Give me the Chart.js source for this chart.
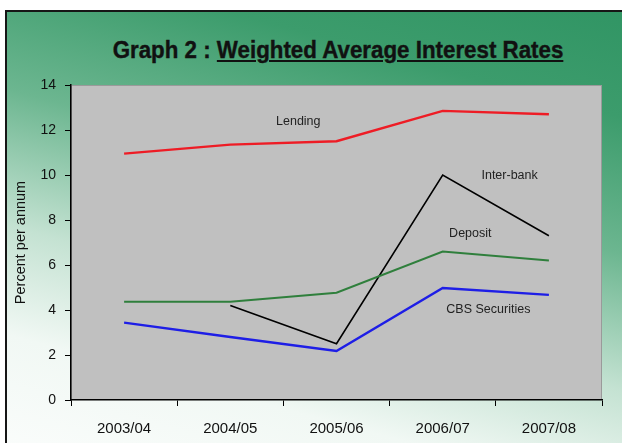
<!DOCTYPE html>
<html lang="en">
<head>
<meta charset="UTF-8"/>
<title>Weighted Average Interest Rates</title>
<script src="https://cdn.jsdelivr.net/npm/chart.js@4/dist/chart.umd.min.js"></script>
<style>
  html,body{margin:0;padding:0;width:622px;height:443px;overflow:hidden;background:#fff}
  .frame{position:absolute;left:5px;top:10px;width:680px;height:500px;
    border-left:2px solid #161616;border-top:2px solid #161616;
    background:linear-gradient(195deg,#2f9463 0%,#3c9c6c 18%,#6cb690 38%,#c4e2d2 58%,#f1f8f4 74%,#fff 100%)}
  .title{position:absolute;left:0;top:38px;width:676px;text-align:center;
    font:bold 24px "Liberation Sans",Arial,sans-serif;line-height:24px;color:#111;
    -webkit-text-stroke:.4px #111;
    transform:scaleX(.93);transform-origin:338px 0}
  .title u{text-decoration-thickness:2px;text-underline-offset:2px}
  canvas{position:absolute;left:0;top:0}
</style>
</head>
<body>
<div class="frame"></div>
<div class="title">Graph 2 : <u>Weighted Average Interest Rates</u></div>
<canvas id="rates" width="622" height="443"></canvas>

<script>
// ── Data (percent per annum) ────────────────────────────────────────────────
const years      = ['2003/04', '2004/05', '2005/06', '2006/07', '2007/08'];
const lending    = [10.95, 11.35, 11.5, 12.85, 12.7];
const interbank  = [null, 4.2, 2.5, 10.0, 7.3];
const deposit    = [4.37, 4.37, 4.77, 6.6, 6.2];
const cbsSec     = [3.44, 2.8, 2.18, 4.98, 4.67];
const yTicks     = [0, 2, 4, 6, 8, 10, 12, 14];

// series names written next to the lines, anchored in axis units
const seriesNames = [
  { text: 'Lending',        at: [1.64, 12.36] },
  { text: 'Inter-bank',     at: [3.63, 9.96] },
  { text: 'Deposit',        at: [3.26, 7.38] },
  { text: 'CBS Securities', at: [3.43, 4.04] },
];

const FONT = '"Liberation Sans", Arial, sans-serif';

// grey plot background + inline series names
const plotDecor = {
  id: 'plotDecor',
  beforeDraw(chart) {
    const { ctx, chartArea: a } = chart;
    ctx.save();
    ctx.fillStyle = '#c0c0c0';
    ctx.fillRect(a.left, a.top, a.right - a.left, a.bottom - a.top);
    ctx.strokeStyle = '#9a9a9a';
    ctx.lineWidth = 1;
    ctx.strokeRect(a.left + 0.5, a.top + 0.5, a.right - a.left - 1, a.bottom - a.top - 1);
    ctx.restore();
  },
  afterDatasetsDraw(chart) {
    const { ctx, scales } = chart;
    ctx.save();
    ctx.font = '12.5px ' + FONT;
    ctx.fillStyle = '#222';
    ctx.textAlign = 'center';
    ctx.textBaseline = 'middle';
    seriesNames.forEach(s => {
      ctx.fillText(s.text, scales.x.getPixelForValue(s.at[0]), scales.y.getPixelForValue(s.at[1]));
    });
    ctx.restore();
  }
};

const line = (label, data, color, width) => ({
  label, data, borderColor: color, borderWidth: width,
  pointRadius: 0, tension: 0, fill: false
});

new Chart(document.getElementById('rates'), {
  type: 'line',
  data: {
    labels: years,
    datasets: [
      line('Lending', lending, '#ee1c25', 2.4),
      line('Deposit', deposit, '#2f7f3c', 2),
      line('CBS Securities', cbsSec, '#1e1ee6', 2.4),
      line('Inter-bank', interbank, '#000', 1.6),
    ]
  },
  options: {
    responsive: false,
    animation: false,
    layout: { padding: { top: 85, right: 20, left: 0, bottom: 0 } },
    plugins: { legend: { display: false }, tooltip: { enabled: false } },
    scales: {
      x: {
        offset: true,
        grid: { offset: true, drawOnChartArea: false, color: '#000', tickLength: 6 },
        border: { color: '#000', width: 1.5 },
        ticks: { color: '#111', font: { family: FONT, size: 15 }, padding: 14, maxRotation: 0 },
        afterFit(s) { s.height = 43; }
      },
      y: {
        min: 0, max: 14,
        afterBuildTicks(s) { s.ticks = yTicks.map(v => ({ value: v })); },
        grid: { drawOnChartArea: false, color: '#000', tickLength: 6 },
        border: { color: '#000', width: 1.5 },
        ticks: { color: '#111', font: { family: FONT, size: 14 }, padding: 9 },
        title: {
          display: true, text: 'Percent per annum', color: '#111',
          font: { family: FONT, size: 14.5 }, padding: { top: 12 }
        },
        afterFit(s) { s.width = 71; }
      }
    }
  },
  plugins: [plotDecor]
});
</script>
</body>
</html>
